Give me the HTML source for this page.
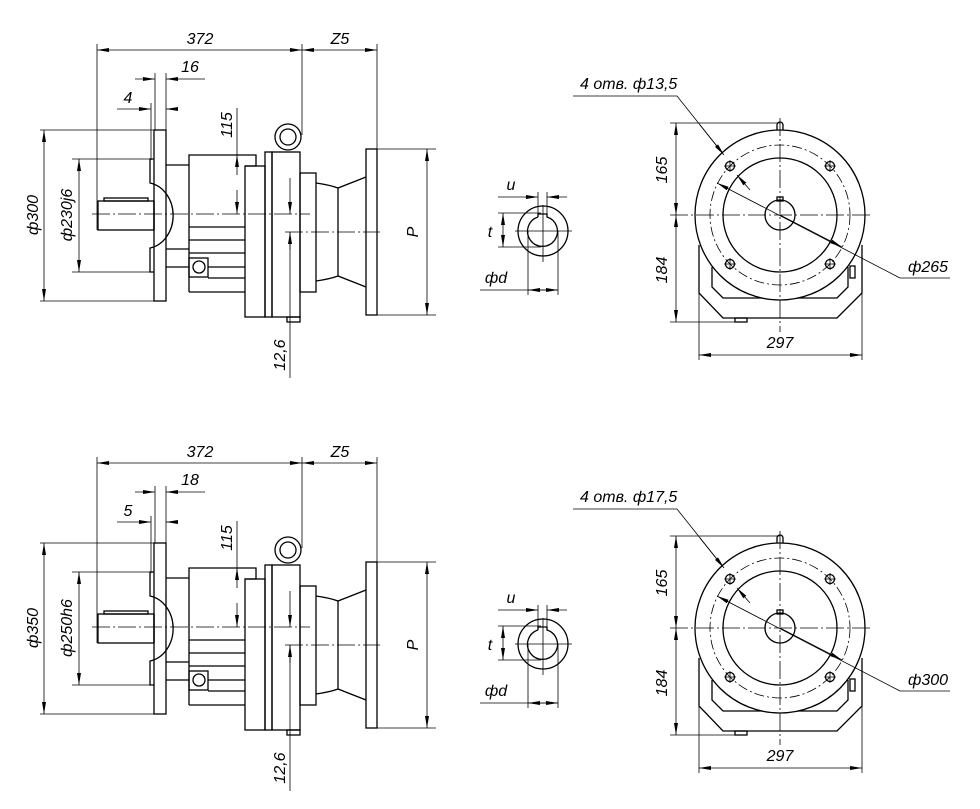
<!DOCTYPE html>
<html><head><meta charset="utf-8"><style>
html,body{margin:0;padding:0;background:#fff}
svg{display:block}
text{font-family:"Liberation Sans",sans-serif;font-style:italic;font-size:16px;fill:#000}
</style></head><body>
<svg width="980" height="809" viewBox="0 0 980 809" xmlns="http://www.w3.org/2000/svg">
<defs>
<marker id="a" viewBox="0 0 12 4" refX="12" refY="2" markerWidth="12" markerHeight="4" markerUnits="userSpaceOnUse" orient="auto-start-reverse"><path d="M0,0 L12,2 L0,4z" fill="#000"/></marker>
<g id="side" fill="none" stroke="#000">
 <g stroke-width="0.8">
  <line x1="97" y1="50" x2="302" y2="50" marker-start="url(#a)" marker-end="url(#a)"/>
  <line x1="302" y1="50" x2="377" y2="50" marker-start="url(#a)" marker-end="url(#a)"/>
  <line x1="97" y1="44" x2="97" y2="230"/>
  <line x1="302" y1="44" x2="302" y2="135"/>
  <line x1="377" y1="44" x2="377" y2="150"/>
  <line x1="135" y1="79" x2="155" y2="79" marker-end="url(#a)"/>
  <line x1="205" y1="79" x2="166" y2="79" marker-end="url(#a)"/>
  <line x1="155" y1="73" x2="155" y2="130"/>
  <line x1="166" y1="73" x2="166" y2="130"/>
  <line x1="117" y1="109" x2="151" y2="109" marker-end="url(#a)"/>
  <line x1="175" y1="109" x2="166" y2="109" marker-end="url(#a)"/>
  <line x1="151" y1="103" x2="151" y2="160"/>
  <line x1="237" y1="108" x2="237" y2="155" />
  <line x1="237" y1="175" x2="237" y2="155" marker-end="url(#a)"/>
  <line x1="237" y1="190" x2="237" y2="214" marker-end="url(#a)"/>
  <line x1="230" y1="155" x2="256" y2="155"/>
  <line x1="44" y1="130" x2="44" y2="301" marker-start="url(#a)" marker-end="url(#a)"/>
  <line x1="40" y1="130" x2="154" y2="130"/>
  <line x1="40" y1="301" x2="154" y2="301"/>
  <line x1="79" y1="159" x2="79" y2="272" marker-start="url(#a)" marker-end="url(#a)"/>
  <line x1="72" y1="159" x2="150" y2="159"/>
  <line x1="72" y1="272" x2="150" y2="272"/>
  <line x1="427" y1="149" x2="427" y2="315" marker-start="url(#a)" marker-end="url(#a)"/>
  <line x1="377" y1="149" x2="436" y2="149"/>
  <line x1="377" y1="315" x2="436" y2="315"/>
  <line x1="290" y1="178" x2="290" y2="214" marker-end="url(#a)"/>
  <line x1="290" y1="250" x2="290" y2="232" marker-end="url(#a)"/>
  <line x1="290" y1="232" x2="290" y2="378"/>
  <line x1="285" y1="232" x2="380" y2="232" stroke-dasharray="18,3,2,3"/>
  <line x1="92" y1="214" x2="310" y2="214" stroke-dasharray="18,3,2,3"/>
 </g>
 <g stroke-width="1.3">
  <rect x="154" y="130" width="12" height="171"/>
  <path d="M154,159 H150 V183 A28,33 0 0 1 150,248 V272 H154"/>
  <rect x="98" y="201" width="56" height="29"/>
  <rect x="104" y="198" width="44" height="3"/>
  <line x1="154" y1="201" x2="154" y2="230"/>
  <line x1="166" y1="165" x2="189" y2="165"/>
  <path d="M166,249 H189 M166,267 H189"/>
  <path d="M189,292 V155 H256 V166 H245"/>
  <rect x="245" y="166" width="20" height="151"/>
  <rect x="265" y="152" width="7" height="165"/>
  <rect x="272" y="152" width="28" height="165"/>
  <rect x="287" y="317" width="13" height="5"/>
  <circle cx="288" cy="137" r="13" fill="#fff"/>
  <circle cx="288" cy="137" r="8"/>
  <path d="M189,227 H245 M189,240 H245 M189,253 H245 M208,267 H245 M208,278 H245 M189,292 H245"/>
  <rect x="189" y="258" width="19" height="19"/>
  <circle cx="199" cy="267" r="6"/>
  <rect x="300" y="173" width="16" height="119"/>
  <path d="M316,183 Q330,185 338,188 L366,177 M316,281 Q330,279 338,276 L366,287 M338,188 V276"/>
  <rect x="366" y="149" width="11" height="166"/>
 </g>
</g>
<g id="end" fill="none" stroke="#000">
 <circle cx="543" cy="231" r="25" stroke-width="1.3"/>
 <path d="M538,217 V214 H547 V217 A15,15 0 1 1 538,217" stroke-width="1.3"/>
 <g stroke-width="0.8">
  <line x1="498" y1="197" x2="538" y2="197" marker-end="url(#a)"/>
  <line x1="567" y1="197" x2="547" y2="197" marker-end="url(#a)"/>
  <line x1="538" y1="192" x2="538" y2="216"/>
  <line x1="547" y1="192" x2="547" y2="216"/>
  <line x1="503" y1="213" x2="503" y2="247" marker-start="url(#a)" marker-end="url(#a)"/>
  <line x1="498" y1="213" x2="541" y2="213"/>
  <line x1="498" y1="247" x2="541" y2="247"/>
  <line x1="480" y1="290" x2="558" y2="290"/>
  <line x1="528" y1="290" x2="558" y2="290" marker-start="url(#a)" marker-end="url(#a)"/>
  <line x1="528" y1="231" x2="528" y2="295"/>
  <line x1="558" y1="231" x2="558" y2="295"/>
  <line x1="543" y1="205" x2="543" y2="262"/>
  <line x1="515" y1="231" x2="572" y2="231"/>
 </g>
</g>
<g id="front" fill="none" stroke="#000">
 <g stroke-width="1.3">
  <path d="M699,245 V293 L723,318 H837 L862,293 V245"/>
  <path d="M712,267 V287 L723,298 H837 L848,287 V267"/>
  <circle cx="780" cy="215" r="85" fill="#fff"/>
  <circle cx="780" cy="215" r="57"/>
  <circle cx="780" cy="215" r="15"/>
  <rect x="777" y="197" width="6" height="4"/>
  <path d="M777,130 V125 A3,3 0 0 1 783,125 V130"/>
  <rect x="850" y="266" width="5" height="12"/>
  <rect x="735" y="318" width="12" height="4"/>
  <circle cx="730" cy="166" r="4.5"/><circle cx="830" cy="166" r="4.5"/>
  <circle cx="730" cy="264" r="4.5"/><circle cx="830" cy="264" r="4.5"/>
 </g>
 <g stroke-width="0.8">
  <circle cx="780" cy="215" r="70" stroke-dasharray="10,3,2,3"/>
  <path d="M724,166 H736 M730,160 V172 M824,166 H836 M830,160 V172 M724,264 H736 M730,258 V270 M824,264 H836 M830,258 V270"/>
  <line x1="670" y1="215" x2="872" y2="215" stroke-dasharray="18,3,2,3"/>
  <line x1="780" y1="118" x2="780" y2="332" stroke-dasharray="18,3,2,3"/>
  <line x1="676" y1="123" x2="676" y2="215" marker-start="url(#a)" marker-end="url(#a)"/>
  <line x1="676" y1="215" x2="676" y2="322" marker-start="url(#a)" marker-end="url(#a)"/>
  <line x1="670" y1="123" x2="780" y2="123"/>
  <line x1="670" y1="322" x2="736" y2="322"/>
  <line x1="699" y1="293" x2="699" y2="360"/>
  <line x1="862" y1="293" x2="862" y2="360"/>
  <line x1="699" y1="355" x2="862" y2="355" marker-start="url(#a)" marker-end="url(#a)"/>
  <path d="M573,96 H677 L720,150"/>
  <line x1="700" y1="125" x2="724" y2="155" marker-end="url(#a)"/>
  <line x1="750" y1="190" x2="737" y2="175" marker-end="url(#a)"/>
  <line x1="900" y1="278" x2="717" y2="183" marker-end="url(#a)"/>
  <line x1="780" y1="215" x2="842" y2="247" marker-end="url(#a)"/>
  <line x1="900" y1="278" x2="950" y2="278"/>
 </g>
</g>
</defs>
<use href="#side"/><use href="#side" y="413"/>
<use href="#end"/><use href="#end" y="413"/>
<use href="#front"/><use href="#front" y="413"/>

<text x="200" y="44" text-anchor="middle">372</text>
<text x="340" y="44" text-anchor="middle">Z5</text>
<text x="190" y="72" text-anchor="middle">16</text>
<text x="128" y="103" text-anchor="middle">4</text>
<text transform="translate(232,125) rotate(-90)" text-anchor="middle">115</text>
<text transform="translate(38,215) rotate(-90)" text-anchor="middle">ф300</text>
<text transform="translate(72,215) rotate(-90)" text-anchor="middle">ф230j6</text>
<text transform="translate(418,232) rotate(-90)" text-anchor="middle">P</text>
<text transform="translate(285,355) rotate(-90)" text-anchor="middle">12,6</text>
<text x="511" y="190" text-anchor="middle">u</text>
<text x="490" y="237" text-anchor="middle">t</text>
<text x="496" y="283" text-anchor="middle">фd</text>
<text x="580" y="89">4 отв. ф13,5</text>
<text transform="translate(667,170) rotate(-90)" text-anchor="middle">165</text>
<text transform="translate(667,270) rotate(-90)" text-anchor="middle">184</text>
<text x="780" y="348" text-anchor="middle">297</text>
<text x="908" y="272">ф265</text>

<text x="200" y="457" text-anchor="middle">372</text>
<text x="340" y="457" text-anchor="middle">Z5</text>
<text x="190" y="485" text-anchor="middle">18</text>
<text x="128" y="516" text-anchor="middle">5</text>
<text transform="translate(232,538) rotate(-90)" text-anchor="middle">115</text>
<text transform="translate(38,628) rotate(-90)" text-anchor="middle">ф350</text>
<text transform="translate(72,628) rotate(-90)" text-anchor="middle">ф250h6</text>
<text transform="translate(418,645) rotate(-90)" text-anchor="middle">P</text>
<text transform="translate(285,768) rotate(-90)" text-anchor="middle">12,6</text>
<text x="511" y="603" text-anchor="middle">u</text>
<text x="490" y="650" text-anchor="middle">t</text>
<text x="496" y="696" text-anchor="middle">фd</text>
<text x="580" y="502">4 отв. ф17,5</text>
<text transform="translate(667,583) rotate(-90)" text-anchor="middle">165</text>
<text transform="translate(667,683) rotate(-90)" text-anchor="middle">184</text>
<text x="780" y="761" text-anchor="middle">297</text>
<text x="908" y="685">ф300</text>
</svg>
</body></html>
